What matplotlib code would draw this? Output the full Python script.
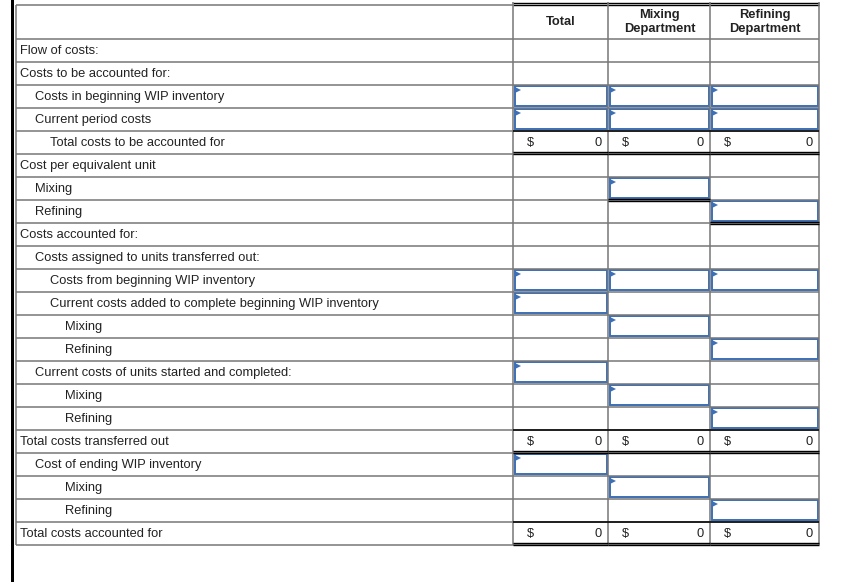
import matplotlib.pyplot as plt
from matplotlib.patches import Rectangle, Polygon

col_headers = ["Total", "Mixing\nDepartment", "Refining\nDepartment"]

row_labels = [
    "Flow of costs:",
    "Costs to be accounted for:",
    "Costs in beginning WIP inventory",
    "Current period costs",
    "Total costs to be accounted for",
    "Cost per equivalent unit",
    "Mixing",
    "Refining",
    "Costs accounted for:",
    "Costs assigned to units transferred out:",
    "Costs from beginning WIP inventory",
    "Current costs added to complete beginning WIP inventory",
    "Mixing",
    "Refining",
    "Current costs of units started and completed:",
    "Mixing",
    "Refining",
    "Total costs transferred out",
    "Cost of ending WIP inventory",
    "Mixing",
    "Refining",
    "Total costs accounted for",
]
row_indent = [0, 0, 1, 1, 2, 0, 1, 1, 0, 1, 2, 2, 3, 3, 1, 3, 3, 0, 1, 3, 3, 0]

# which columns hold an input box in each row
input_cells = {2: [0, 1, 2], 3: [0, 1, 2], 6: [1], 7: [2],
               10: [0, 1, 2], 11: [0], 12: [1], 13: [2],
               14: [0], 15: [1], 16: [2],
               18: [0], 19: [1], 20: [2]}
# rows with a double rule under some columns (no top rule)
double_under = {6: [1], 7: [2]}
total_rows = [4, 17, 21]
total_values = [[0, 0, 0], [0, 0, 0], [0, 0, 0]]

W, H = 857, 582
fig = plt.figure(figsize=(W / 100, H / 100), dpi=100)
ax = fig.add_axes([0, 0, 1, 1])
ax.set_xlim(0, W)
ax.set_ylim(H, 0)
ax.axis('off')

grid = '#777777'
blue = '#3d6fb4'
txt = '#222222'
font = 'Liberation Sans'
fs = 9.3

x_left = 16.5
col_x = [513.5, 608.5, 710.5, 819.5]
y_top = 4.5
y_head = 38.5
row_h = 23
indent_px = [20, 35, 50, 65]
n = len(row_labels)
y_bot = y_head + n * row_h

def hline(y, x0, x1, color=grid, lw=1.1):
    ax.plot([x0, x1], [y, y], color=color, lw=lw, solid_capstyle='butt')

def vline(x, y0, y1, color=grid, lw=1.1):
    ax.plot([x, x], [y0, y1], color=color, lw=lw, solid_capstyle='butt')

# thick black bar at far left
ax.add_patch(Rectangle((11.5, 0), 3, H, color='black', lw=0))

# header
hline(y_top, x_left, col_x[0])
hline(2.7, col_x[0], col_x[3], 'black', 1.0)
hline(4.9, col_x[0], col_x[3], 'black', 1.0)
for j, h in enumerate(col_headers):
    ax.text((col_x[j] + col_x[j + 1]) / 2, 22, h, ha='center', va='center',
            fontsize=fs, fontweight='bold', family=font, color=txt,
            linespacing=1.3)

# horizontal grid lines
for i in range(n + 1):
    hline(y_head + i * row_h, x_left, col_x[3])

# vertical lines
vline(x_left, y_top, y_bot)
for x in col_x:
    vline(x, 2, y_bot)

# labels
for i, (lab, ind) in enumerate(zip(row_labels, row_indent)):
    yc = y_head + i * row_h + row_h / 2 + 1
    ax.text(indent_px[ind], yc, lab, ha='left', va='center', fontsize=fs,
            family=font, color=txt)

# total rows: $ ... 0 with top rule and double bottom rule
for r, vals in zip(total_rows, total_values):
    y0 = y_head + r * row_h
    y1 = y0 + row_h
    for j in range(3):
        hline(y0 + 0.5, col_x[j], col_x[j + 1], 'black', 1.1)
        hline(y1 - 1.5, col_x[j], col_x[j + 1], 'black', 1.0)
        hline(y1 + 0.7, col_x[j], col_x[j + 1], 'black', 1.0)
        ax.text(col_x[j] + 13, y0 + row_h / 2 + 1, '$', ha='left',
                va='center', fontsize=fs, family=font, color=txt)
        ax.text(col_x[j + 1] - 6.5, y0 + row_h / 2 + 1, str(vals[j]),
                ha='right', va='center', fontsize=fs, family=font, color=txt)

for r, cols in double_under.items():
    y1 = y_head + (r + 1) * row_h
    for j in cols:
        hline(y1 - 1.0, col_x[j], col_x[j + 1], 'black', 1.0)
        hline(y1 + 1.0, col_x[j], col_x[j + 1], 'black', 1.0)

# input boxes
for r, cols in input_cells.items():
    y0 = y_head + r * row_h
    for j in cols:
        x0 = col_x[j] + 1.5
        w = col_x[j + 1] - col_x[j] - 3
        ax.add_patch(Rectangle((x0, y0 + 1.5), w, row_h - 3, fill=False,
                               ec=blue, lw=1.4))
        ax.add_patch(Polygon([(x0, y0 + 2.5), (x0, y0 + 8.5),
                              (x0 + 6, y0 + 5.5)], closed=True, color=blue,
                             lw=0))

fig.savefig('out.png', dpi=100)
